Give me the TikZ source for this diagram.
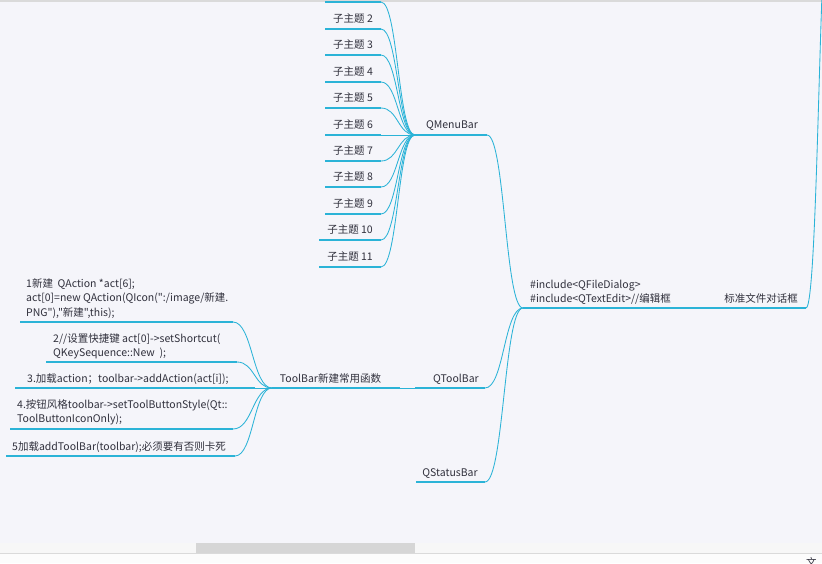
\documentclass[tikz,border=0pt]{standalone}
\usepackage{fontspec}
\setmainfont{Noto Sans CJK SC}[Ligatures=TeXOff]
\usetikzlibrary{calc}
\definecolor{canvas}{HTML}{F5F5FA}
\definecolor{branchline}{HTML}{2BB3D7}
\definecolor{ink}{HTML}{30303C}
\definecolor{barbg}{HTML}{F7F7F7}
\definecolor{thumb}{HTML}{D6D6D6}
\definecolor{rule}{HTML}{DADADA}
\newcommand\mlines[1]{\begin{tabular}[t]{@{}l@{}}#1\end{tabular}}
\tikzset{
  x=1pt, y=-1pt,
  topic/.style={inner sep=0pt, text=ink, font=\fontsize{10.5}{14.5}\selectfont},
  uline/.style={draw=branchline, line width=1.15pt},
  conn/.style={draw=branchline, line width=0.85pt},
  branch/.style={to path={.. controls ($(\tikztostart)!0.5!(\tikztostart -| \tikztotarget)$)
      and ($(\tikztotarget)!0.5!(\tikztotarget -| \tikztostart)$) .. (\tikztotarget)}}
}
\begin{document}
\begin{tikzpicture}
\useasboundingbox (0,0) rectangle (822,563);
\clip (0,0) rectangle (822,563);
% canvas, top rule and horizontal scroll bar
\fill[canvas] (0,0) rectangle (822,563);
\fill[rule] (0,0) rectangle (822,1.5);
\fill[barbg] (0,543) rectangle (822,553);
\fill[thumb] (196,543) rectangle (415,553);
\fill[rule] (0,553) rectangle (822,554);
\fill[white!60!barbg] (0,554) rectangle (822,563);
\node[topic, anchor=north west] (edge) at (806,557) {文};

% underline end points
\coordinate (c1l) at (325,2);   \coordinate (c1r) at (381,2);
\coordinate (c2l) at (325,29);  \coordinate (c2r) at (381,29);
\coordinate (c3l) at (325,55);  \coordinate (c3r) at (381,55);
\coordinate (c4l) at (325,82);  \coordinate (c4r) at (381,82);
\coordinate (c5l) at (325,108); \coordinate (c5r) at (381,108);
\coordinate (c6l) at (325,135); \coordinate (c6r) at (381,135);
\coordinate (c7l) at (325,161); \coordinate (c7r) at (381,161);
\coordinate (c8l) at (325,187); \coordinate (c8r) at (381,187);
\coordinate (c9l) at (325,214); \coordinate (c9r) at (381,214);
\coordinate (c10l) at (319,240); \coordinate (c10r) at (381,240);
\coordinate (c11l) at (319,267); \coordinate (c11r) at (381,267);
\coordinate (mbl) at (415,135); \coordinate (mbr) at (487,135);
\coordinate (incl) at (523,308); \coordinate (incr) at (677,308);
\coordinate (stdl) at (717,308); \coordinate (stdr) at (806,308);
\coordinate (root) at (832,-130);
\coordinate (tbl) at (415,388); \coordinate (tbr) at (485,388);
\coordinate (sbl) at (416,482); \coordinate (sbr) at (485,482);
\coordinate (tfl) at (272,388); \coordinate (tfr) at (400,388);
\coordinate (f1l) at (20,322);  \coordinate (f1r) at (233,322);
\coordinate (f2l) at (46,362);  \coordinate (f2r) at (237,362);
\coordinate (f3l) at (15,388);  \coordinate (f3r) at (255,388);
\coordinate (f4l) at (10,429);  \coordinate (f4r) at (233,429);
\coordinate (f5l) at (6,456);   \coordinate (f5r) at (235,456);

% topic texts
\node[topic, anchor=base] (t2) at (353,22) {子主题 2};
\node[topic, anchor=base] (t3) at (353,48) {子主题 3};
\node[topic, anchor=base] (t4) at (353,75) {子主题 4};
\node[topic, anchor=base] (t5) at (353,101) {子主题 5};
\node[topic, anchor=base] (t6) at (353,128) {子主题 6};
\node[topic, anchor=base] (t7) at (353,154) {子主题 7};
\node[topic, anchor=base] (t8) at (353,180) {子主题 8};
\node[topic, anchor=base] (t9) at (353,207) {子主题 9};
\node[topic, anchor=base] (t10) at (350,233) {子主题 10};
\node[topic, anchor=base] (t11) at (350,260) {子主题 11};
\node[topic, anchor=base] (mb) at (452,128) {QMenuBar};
\node[topic, anchor=base] (tb) at (456,382) {QToolBar};
\node[topic, anchor=base] (sb) at (450,476) {QStatusBar};
\node[topic, anchor=base west] (inc) at (530,288)
  {\mlines{\#include<QFileDialog>\\\#include<QTextEdit>//编辑框}};
\node[topic, anchor=base] (std) at (761,302) {标准文件对话框};
\node[topic, anchor=base] (tf) at (330.5,382) {ToolBar新建常用函数};
\node[topic, anchor=base west] (f1) at (26,287)
  {\mlines{1新建\ \ QAction *act[6];\\act[0]=new QAction(QIcon(":/image/新建.\\PNG"),"新建",this);}};
\node[topic, anchor=base west] (f2) at (53,342)
  {\mlines{2//设置快捷键 act[0]->setShortcut(\\QKeySequence::New\ \ );}};
\node[topic, anchor=base west] (f3) at (27,382) {3.加载action；toolbar->addAction(act[i]);};
\node[topic, anchor=base west] (f4) at (17,408)
  {\mlines{4.按钮风格toolbar->setToolButtonStyle(Qt::\\ToolButtonIconOnly);}};
\node[topic, anchor=base west] (f5) at (12,450) {5加载addToolBar(toolbar);必须要有否则卡死};

% underlines
\foreach \n in {c1,c2,c3,c4,c5,c6,c7,c8,c9,c10,c11,mb,inc,std,tb,sb,tf,f1,f2,f3,f4,f5}
  \draw[uline] (\n l) -- (\n r);
\draw[uline] (incr) -- (stdl);

% connectors
\foreach \n in {c1,c2,c3,c4,c5,c6,c7,c8,c9,c10,c11}
  \draw[conn] (\n r) to[branch] (mbl);
\foreach \n in {mb,tb,sb}
  \draw[conn] (\n r) to[branch] (incl);
\foreach \n in {f1,f2,f3,f4,f5}
  \draw[conn] (\n r) to[branch] (tfl);
\draw[conn] (tfr) to[branch] (tbl);
\draw[conn] (stdr) to[branch] (root);
\end{tikzpicture}
\end{document}
